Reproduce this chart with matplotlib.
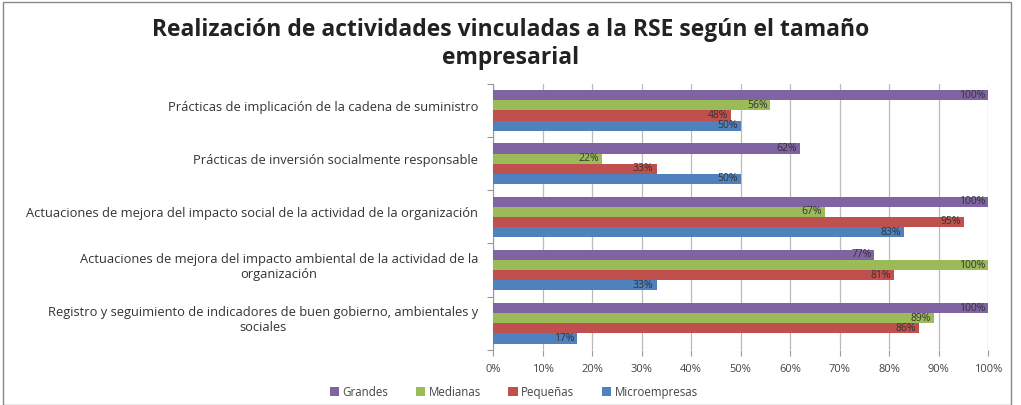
"""Realización de actividades vinculadas a la RSE según el tamaño empresarial."""
import matplotlib
matplotlib.use("Agg")
import matplotlib.pyplot as plt
import numpy as np
from matplotlib.patches import Rectangle

plt.rcParams["font.family"] = ["Open Sans", "DejaVu Sans"]

categories = [
    "Prácticas de implicación de la cadena de suministro",
    "Prácticas de inversión socialmente responsable",
    "Actuaciones de mejora del impacto social de la actividad de la organización",
    "Actuaciones de mejora del impacto ambiental de la actividad de la\norganización",
    "Registro y seguimiento de indicadores de buen gobierno, ambientales y\nsociales",
]
series_names = ["Grandes", "Medianas", "Pequeñas", "Microempresas"]
grandes = [100, 62, 100, 77, 100]
medianas = [56, 22, 67, 100, 89]
pequenas = [48, 33, 95, 81, 86]
micro = [50, 50, 83, 33, 17]
x_ticks = list(range(0, 101, 10))

colors = ["#8064A2", "#9BBB59", "#C0504D", "#4F81BD"]
series = [grandes, medianas, pequenas, micro]

fig = plt.figure(figsize=(10.21, 4.05), dpi=100)
ax = fig.add_axes([0.483, 0.136, 0.485, 0.657])

y = np.arange(len(categories))
bar_h = 0.19
for i, (vals, name, col) in enumerate(zip(series, series_names, colors)):
    pos = y - 1.5 * bar_h + i * bar_h
    ax.barh(pos, vals, height=bar_h, color=col, label=name, zorder=3)
    for p, v in zip(pos, vals):
        ax.text(v - 0.6, p, f"{v}%", ha="right", va="center",
                fontsize=7.5, color="#333333", zorder=4)

ax.set_xlim(0, 100)
ax.set_ylim(4.5, -0.5)
ax.set_xticks(x_ticks)
ax.set_xticklabels([f"{t}%" for t in x_ticks], fontsize=8, color="#444444")
ax.tick_params(axis="x", length=4, color="#999999", pad=6)
ax.grid(axis="x", color="#BBBBBB", linewidth=0.9, zorder=0)

ax.set_yticks(np.arange(-0.5, 5, 1.0), minor=False)
ax.set_yticklabels([])
ax.tick_params(axis="y", length=4, color="#999999")
for yi, lab in zip(y, categories):
    ax.text(-3.0, yi - 0.06, lab, ha="right", va="center", fontsize=9.3,
            color="#333333", multialignment="center",
            transform=ax.transData, clip_on=False)

for side in ("top", "right", "bottom"):
    ax.spines[side].set_visible(False)
ax.spines["left"].set_color("#999999")

fig.suptitle("Realización de actividades vinculadas a la RSE según el tamaño\nempresarial",
             x=0.5, y=0.955, fontsize=16.5, fontweight="bold", color="#222222",
             linespacing=1.2)

fig.legend(loc="lower center", bbox_to_anchor=(0.503, -0.01), ncol=4, frameon=False,
           fontsize=8.3, handlelength=0.8, handleheight=0.8, handletextpad=0.3,
           columnspacing=2.4, labelcolor="#444444")

fig.patches.append(Rectangle((0.003, 0.0), 0.987, 0.995, transform=fig.transFigure,
                             fill=False, edgecolor="#888888", linewidth=1.0))

fig.savefig("out.png", dpi=100)
